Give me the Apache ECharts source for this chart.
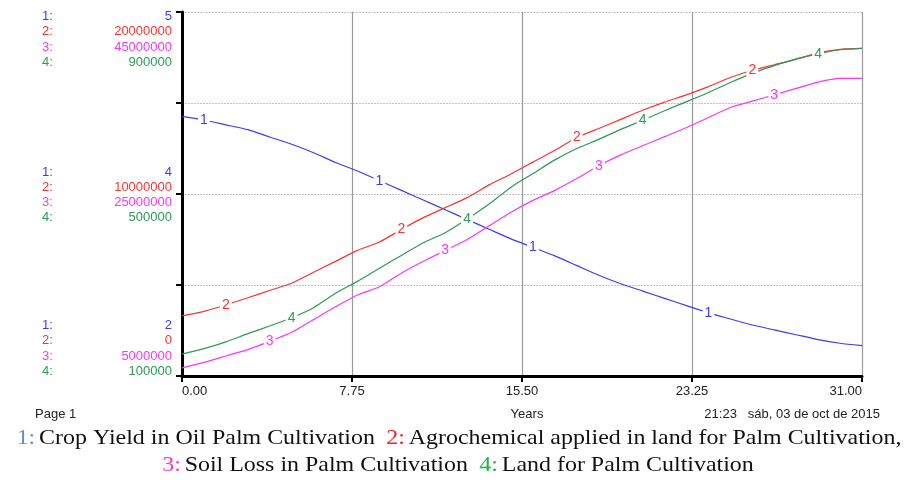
<!DOCTYPE html>
<html>
<head>
<meta charset="utf-8">
<script src="https://cdn.jsdelivr.net/npm/echarts@6/dist/echarts.min.js"></script>
<style>
  html, body { margin: 0; padding: 0; background: #fff; }
  #chart { width: 909px; height: 480px; }
</style>
</head>
<body>
<div id="chart"></div>
<script>
// Simulation time (years)
const years = [0, 1, 2, 3, 4, 5, 6, 7, 8, 9, 10, 11, 12, 13, 14, 15, 16, 17, 18, 19, 20, 21, 22, 23, 24, 25, 26, 27, 28, 29, 30, 31];

// 1: Crop Yield in Oil Palm Cultivation
const cropYield = [4.14, 4.11, 4.07, 4.03, 3.97, 3.91, 3.84, 3.76, 3.69, 3.61, 3.53, 3.45, 3.37, 3.29, 3.21, 3.13,
  3.06, 2.99, 2.91, 2.83, 2.76, 2.70, 2.64, 2.58, 2.52, 2.47, 2.42, 2.38, 2.34, 2.30, 2.27, 2.25];

// 2: Agrochemical applied in land for Palm Cultivation
const agrochemical = [3300000, 3550000, 3900000, 4300000, 4700000, 5100000, 5700000, 6300000, 6900000, 7360000,
  8050000, 8700000, 9250000, 9800000, 10500000, 11100000, 11750000, 12400000, 13100000, 13600000, 14100000,
  14600000, 15050000, 15450000, 15900000, 16400000, 16800000, 17100000, 17400000, 17750000, 17950000, 18000000];

// 3: Soil Loss in Palm Cultivation
const soilLoss = [5900000, 6500000, 7200000, 7900000, 8800000, 9800000, 11200000, 12600000, 13900000, 14800000,
  16300000, 17600000, 18800000, 20000000, 21500000, 23000000, 24300000, 25400000, 26700000, 28100000, 29300000,
  30300000, 31300000, 32300000, 33400000, 34500000, 35200000, 35900000, 36600000, 37300000, 37700000, 37700000];

// 4: Land for Palm Cultivation
const landArea = [148000, 160000, 175000, 193000, 210000, 228000, 250000, 282000, 308000, 337000, 365000, 393000,
  415000, 445000, 478000, 515000, 545000, 575000, 600000, 620000, 642000, 662000, 683000, 703000, 723000, 745000,
  765000, 782000, 797000, 808000, 817000, 820000];

// Scale of each variable [min, max]
const yieldRange = [2, 5];
const agroRange = [0, 20000000];
const soilRange = [5000000, 45000000];
const landRange = [100000, 900000];

// Scale labels shown on the left (top, middle, bottom)
const yieldTicks = ['5', '4', '2'];
const agroTicks = ['20000000', '10000000', '0'];
const soilTicks = ['45000000', '25000000', '5000000'];
const landTicks = ['900000', '500000', '100000'];

// Years at which each curve carries its number tag
const yieldTagYears = [1, 9, 16, 24];
const agroTagYears = [2, 10, 18, 26];
const soilTagYears = [4, 12, 19, 27];
const landTagYears = [5, 13, 21, 29];

const seriesNames = ['Crop Yield in Oil Palm Cultivation', 'Agrochemical applied in land for Palm Cultivation',
  'Soil Loss in Palm Cultivation', 'Land for Palm Cultivation'];

const colors = ['#3b3bff', '#ff3030', '#ff33ff', '#2e9a55'];
const legendColors = ['#5a8fd0', '#ff1a1a', '#ff33cc', '#1db34a'];

const GRID = { left: 182, right: 47, top: 12, bottom: 104 };
const PLOT_TOP = GRID.top, PLOT_BOTTOM = 480 - GRID.bottom;

function buildData(values, tagYears, tag, color) {
  return years.map((yr, i) => {
    const item = { value: [yr, values[i]] };
    if (tagYears.indexOf(yr) >= 0) {
      item.label = {
        show: true, position: 'inside', formatter: tag, color: color,
        fontFamily: 'Liberation Sans', fontSize: 14, backgroundColor: '#fff', padding: [0, 2]
      };
    }
    return item;
  });
}

function lineSeries(values, tagYears, idx) {
  return {
    name: seriesNames[idx], type: 'line', yAxisIndex: idx, smooth: 0.2,
    symbol: 'circle', symbolSize: 0, showSymbol: true,
    lineStyle: { color: colors[idx], width: 1.2 },
    itemStyle: { color: colors[idx] },
    label: { show: false },
    emphasis: { disabled: true },
    data: buildData(values, tagYears, String(idx + 1), colors[idx]),
    z: 3
  };
}

const hiddenAxis = (range) => ({
  type: 'value', position: 'left', min: range[0], max: range[1], show: false
});

// Left-hand scale labels
const tickSets = [yieldTicks, agroTicks, soilTicks, landTicks];
const groupRows = [
  [PLOT_TOP + 4, 15.5],
  [172, 15.3],
  [PLOT_BOTTOM - 51, 15.6]
];
const scaleGraphics = [];
groupRows.forEach((g, gi) => {
  tickSets.forEach((ticks, si) => {
    const y = g[0] + si * g[1];
    scaleGraphics.push({
      type: 'text', x: 42, y: y,
      style: { text: (si + 1) + ':', fill: colors[si], font: '13px "Liberation Sans"', textVerticalAlign: 'middle' }
    });
    scaleGraphics.push({
      type: 'text', x: 172, y: y,
      style: { text: ticks[gi], fill: colors[si], font: '13px "Liberation Sans"', textAlign: 'right', textVerticalAlign: 'middle' }
    });
  });
});

const LEGEND_FONT = '21px "Liberation Serif"';
const legendRich = {
  n1: { fill: legendColors[0], font: LEGEND_FONT },
  n2: { fill: legendColors[1], font: LEGEND_FONT },
  n3: { fill: legendColors[2], font: LEGEND_FONT },
  n4: { fill: legendColors[3], font: LEGEND_FONT },
  t: { fill: '#111', font: LEGEND_FONT }
};

const chart = echarts.init(document.getElementById('chart'), null, { renderer: 'canvas' });
chart.setOption({
  animation: false,
  backgroundColor: '#fff',
  grid: GRID,
  xAxis: {
    type: 'value', min: 0, max: 31, interval: 7.75,
    axisLine: { show: true, lineStyle: { color: '#000', width: 3 } },
    axisTick: { show: true, length: 6, lineStyle: { color: '#000', width: 2 } },
    axisLabel: {
      color: '#222', fontFamily: 'Liberation Sans', fontSize: 13, margin: 9,
      formatter: (v) => v.toFixed(2), alignMinLabel: 'left', alignMaxLabel: 'right',
      showMinLabel: true, showMaxLabel: true
    },
    splitLine: { show: true, lineStyle: { color: '#9a9a9a', width: 1.2 } }
  },
  yAxis: [
    hiddenAxis(yieldRange),
    {
      type: 'value', position: 'left', min: agroRange[0], max: agroRange[1], interval: 5000000,
      axisLine: { show: true, lineStyle: { color: '#000', width: 3 } },
      axisTick: { show: true, length: 6, lineStyle: { color: '#000', width: 2 } },
      axisLabel: { show: false },
      splitLine: { show: true, lineStyle: { color: '#c4c4c4', width: 1, type: [2, 1] } }
    },
    hiddenAxis(soilRange),
    hiddenAxis(landRange)
  ],
  series: [
    lineSeries(cropYield, yieldTagYears, 0),
    lineSeries(agrochemical, agroTagYears, 1),
    lineSeries(soilLoss, soilTagYears, 2),
    lineSeries(landArea, landTagYears, 3)
  ],
  graphic: scaleGraphics.concat([
    { type: 'text', x: 35, y: 414, style: { text: 'Page 1', fill: '#222', font: '13px "Liberation Sans"', textVerticalAlign: 'middle' } },
    { type: 'text', x: 527, y: 414, style: { text: 'Years', fill: '#222', font: '13px "Liberation Sans"', textAlign: 'center', textVerticalAlign: 'middle' } },
    { type: 'text', x: 880, y: 414, style: { text: '21:23   sáb, 03 de oct de 2015', fill: '#222', font: '13px "Liberation Sans"', textAlign: 'right', textVerticalAlign: 'middle' } },
    {
      type: 'text', x: 459, y: 438, scaleX: 1.14,
      style: {
        text: '{n1|1:} {t|' + seriesNames[0] + '}   {n2|2:} {t|' + seriesNames[1] + ',}',
        rich: legendRich, textAlign: 'center', textVerticalAlign: 'middle'
      }
    },
    {
      type: 'text', x: 458, y: 465, scaleX: 1.14,
      style: {
        text: '{n3|3:} {t|' + seriesNames[2] + '}   {n4|4:} {t|' + seriesNames[3] + '}',
        rich: legendRich, textAlign: 'center', textVerticalAlign: 'middle'
      }
    }
  ])
});
</script>
</body>
</html>
